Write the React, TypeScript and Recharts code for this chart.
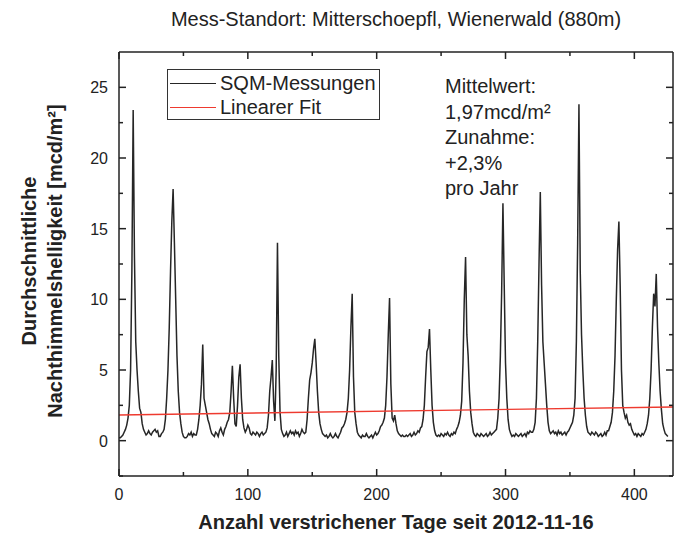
import { LineChart, Line, XAxis, YAxis } from "recharts";

// SQM-Messwerte, ein Wert pro Tag ab 2012-11-16 (Tag 0)
const brightness = [
  0.2, 0.2, 0.3, 0.4, 0.6, 0.8, 1.1, 1.6, 2.5, 5,
  12, 23.4, 13, 7, 5, 3.5, 2.3, 2.0, 1.2, 0.8,
  0.6, 0.4, 0.5, 0.7, 0.5, 0.4, 0.6, 0.7, 0.8, 0.6,
  0.7, 0.3, 0.3, 0.5, 0.6, 0.8, 1.5, 3, 5, 8,
  12, 15.5, 17.8, 14, 10, 6, 3.5, 2, 1.2, 0.6,
  0.3, 0.2, 0.2, 0.3, 0.5, 0.4, 0.6, 0.3, 0.5, 0.4,
  0.4, 0.8, 1.5, 2.5, 4, 6.8, 3, 2.5, 2, 1.5,
  1.2, 0.8, 0.5, 0.4, 0.3, 0.6, 0.5, 0.3, 0.7, 0.9,
  0.6, 0.4, 0.8, 1.0, 1.3, 1.5, 2.0, 3.5, 5.3, 3,
  1.2, 1.0, 2.5, 4.5, 5.4, 3, 1.5, 0.9, 0.6, 0.8,
  1.1, 0.9, 0.5, 0.4, 0.6, 0.5, 0.4, 0.6, 0.5, 0.3,
  0.5, 0.6, 0.4, 0.5, 0.6, 0.9, 1.8, 3.5, 4.5, 5.7,
  2.8, 1.4, 5, 14, 6, 2, 0.8, 0.5, 0.3, 0.4,
  0.6, 0.3, 0.5, 0.7, 0.5, 0.6, 0.4, 0.7, 0.5, 0.6,
  0.3, 0.5, 0.8, 0.6, 0.5, 0.6, 1.5, 3, 4.3, 4.8,
  5.5, 6.5, 7.2, 5.5, 3.5, 2, 1.2, 0.8, 0.5, 0.4,
  0.3, 0.4, 0.2, 0.3, 0.5, 0.3, 0.2, 0.3, 0.5, 0.3,
  0.2, 0.4, 0.6, 0.9, 1.0, 1.2, 1.5, 2, 3, 5,
  8, 10.4, 4.5, 2, 1.2, 0.6, 0.4, 0.3, 0.2, 0.4,
  0.3, 0.3, 0.5, 0.3, 0.2, 0.3, 0.4, 0.2, 0.4, 0.6,
  0.4, 0.5, 0.7, 1.0, 1.1, 1.3, 1.6, 2.5, 4.5, 7.5,
  10.1, 4, 1.6, 1.4, 1.8, 1.2, 0.7, 0.5, 0.4, 0.3,
  0.4, 0.3, 0.3, 0.4, 0.3, 0.4, 0.5, 0.3, 0.4, 0.6,
  0.4, 0.5, 0.7, 0.6, 0.9, 1.0, 1.5, 2.5, 4.5, 6.3,
  6.6, 7.9, 5, 2.5, 1.3, 0.7, 0.4, 0.3, 0.4, 0.3,
  0.5, 0.4, 0.3, 0.5, 0.4, 0.6, 0.4, 0.3, 0.5, 0.4,
  0.6, 0.5, 0.8, 1.0, 1.3, 1.8, 2.8, 5.5, 10, 13.0,
  7.5, 6, 3.5, 2, 1.2, 0.6, 0.4, 0.3, 0.5, 0.4,
  0.3, 0.5, 0.4, 0.3, 0.4, 0.5, 0.3, 0.4, 0.6, 0.4,
  0.5, 0.6, 0.7, 0.8, 1.6, 3, 6, 10.5, 16.8, 11,
  5.5, 3, 1.5, 0.8, 0.5, 0.3, 0.4, 0.3, 0.5, 0.4,
  0.3, 0.4, 0.5, 0.3, 0.4, 0.5, 0.3, 0.6, 0.5, 0.7,
  0.6, 0.6, 0.8, 1.3, 3, 7, 12.5, 17.6, 11, 7,
  5.5, 4, 2.5, 1.3, 0.7, 0.5, 0.6, 0.7, 0.5, 0.6,
  0.4, 0.7, 0.5, 0.6, 0.4, 0.5, 0.6, 0.4, 0.6, 0.7,
  0.9, 1.1, 1.3, 1.8, 3, 7, 14, 23.8, 12, 7.5,
  5, 3, 1.8, 1.0, 0.6, 0.5, 0.4, 0.6, 0.5, 0.4,
  0.6, 0.5, 0.3, 0.4, 0.5, 0.3, 0.4, 0.6, 0.4, 0.7,
  0.7, 1.0, 1.3, 2, 3.5, 6, 10, 13.5, 15.5, 11,
  5, 2.5, 2.0, 1.6, 1.8, 1.3, 1.1, 1.2, 0.8, 0.6,
  0.4, 0.5, 0.3, 0.5, 0.4, 0.3, 0.5, 0.4, 0.6, 0.8,
  1.2, 1.8, 3, 5, 8, 10.4, 9.5, 11.8, 8, 5.5,
  3.5, 2.2, 1.2, 0.8, 0.5, 0.4, 0.3,
];

// Linearer Fit: Anfangs- und Endwert
const fitDays = [0, 430];
const fitValues = [1.82, 2.38];

// Haupt- und Nebenstriche
const xTicks = [0, 50, 100, 150, 200, 250, 300, 350, 400];
const xLabeled = [0, 100, 200, 300, 400];
const yTicks = [-2.5, 0, 2.5, 5, 7.5, 10, 12.5, 15, 17.5, 20, 22.5, 25];
const yLabeled = [0, 5, 10, 15, 20, 25];

const xDomain = [0, 430];
const yDomain = [-2.5, 27.5];

const font = '"Liberation Sans", Arial, sans-serif';
const ink = "#222";
const MAJOR = 7;
const MINOR = 4;

// Striche zeigen nach innen (Origin-Stil), Beschriftung nur an Hauptstrichen
function makeTick(side: "bottom" | "top" | "left" | "right", labeled: number[]) {
  return (props: any) => {
    const { x, y, payload } = props;
    const major = labeled.includes(payload.value);
    const len = major ? MAJOR : MINOR;
    let line;
    if (side === "bottom") line = <line x1={x} x2={x} y1={y} y2={y - len} />;
    else if (side === "top") line = <line x1={x} x2={x} y1={y} y2={y + len} />;
    else if (side === "left") line = <line x1={x} x2={x + len} y1={y} y2={y} />;
    else line = <line x1={x} x2={x - len} y1={y} y2={y} />;
    return (
      <g>
        <g stroke={ink} strokeWidth={1.5}>{line}</g>
        {major && side === "bottom" && (
          <text x={x} y={y + 24} textAnchor="middle" fill={ink} fontSize={16} fontFamily={font}>
            {payload.value}
          </text>
        )}
        {major && side === "left" && (
          <text x={x - 11} y={y + 6} textAnchor="end" fill={ink} fontSize={16} fontFamily={font}>
            {payload.value}
          </text>
        )}
      </g>
    );
  };
}

export default function App() {
  const sqmData = brightness.map((v, i) => ({ day: i, sqm: v }));
  const fitData = fitDays.map((d, i) => ({ day: d, fit: fitValues[i] }));

  const frame = { stroke: ink, strokeWidth: 1.5 };

  return (
    <div
      style={{
        position: "absolute",
        left: 0,
        top: 0,
        width: 683,
        height: 538,
        background: "#fff",
        fontFamily: font,
        color: ink,
      }}
    >
      <LineChart
        width={683}
        height={538}
        margin={{ top: 51, right: 9, bottom: 61, left: 118 }}
      >
        <XAxis
          xAxisId="main"
          dataKey="day"
          type="number"
          domain={xDomain}
          ticks={xTicks}
          allowDataOverflow
          height={1}
          tickSize={0}
          tickMargin={0}
          axisLine={frame}
          tickLine={false}
          tick={makeTick("bottom", xLabeled)}
          interval={0}
        />
        <XAxis
          xAxisId="top"
          orientation="top"
          dataKey="day"
          type="number"
          domain={xDomain}
          ticks={xTicks}
          allowDataOverflow
          height={1}
          tickSize={0}
          tickMargin={0}
          axisLine={frame}
          tickLine={false}
          tick={makeTick("top", xLabeled)}
          interval={0}
        />
        <YAxis
          yAxisId="main"
          type="number"
          domain={yDomain}
          ticks={yTicks}
          allowDataOverflow
          width={1}
          tickSize={0}
          tickMargin={0}
          axisLine={frame}
          tickLine={false}
          tick={makeTick("left", yLabeled)}
          interval={0}
        />
        <YAxis
          yAxisId="right"
          orientation="right"
          type="number"
          domain={yDomain}
          ticks={yTicks}
          allowDataOverflow
          width={1}
          tickSize={0}
          tickMargin={0}
          axisLine={frame}
          tickLine={false}
          tick={makeTick("right", yLabeled)}
          interval={0}
        />
        <Line
          xAxisId="main"
          yAxisId="main"
          data={sqmData}
          dataKey="sqm"
          type="linear"
          stroke="#262626"
          strokeWidth={1.5}
          dot={false}
          isAnimationActive={false}
        />
        <Line
          xAxisId="main"
          yAxisId="main"
          data={fitData}
          dataKey="fit"
          type="linear"
          stroke="#ee3a2f"
          strokeWidth={1.4}
          dot={false}
          isAnimationActive={false}
        />
        <Line
          xAxisId="top"
          yAxisId="right"
          data={fitData}
          dataKey="fit"
          stroke="none"
          dot={false}
          legendType="none"
          isAnimationActive={false}
        />
      </LineChart>

      {/* Titel */}
      <div
        style={{
          position: "absolute",
          left: 119,
          width: 554,
          top: 8,
          textAlign: "center",
          fontSize: 20,
        }}
      >
        Mess-Standort: Mitterschoepfl, Wienerwald (880m)
      </div>

      {/* Legende */}
      <div
        style={{
          position: "absolute",
          left: 167,
          top: 69,
          width: 211,
          height: 49,
          border: "1.5px solid #333",
          fontSize: 20,
        }}
      >
        {[
          { name: "SQM-Messungen", color: "#262626" },
          { name: "Linearer Fit", color: "#ee3a2f" },
        ].map((item, i) => (
          <div
            key={item.name}
            style={{
              position: "absolute",
              left: 2,
              top: 1 + i * 24,
              height: 24,
              display: "flex",
              alignItems: "center",
              whiteSpace: "nowrap",
            }}
          >
            <span
              style={{
                display: "inline-block",
                width: 46,
                height: 0,
                borderTop: `1.5px solid ${item.color}`,
                marginRight: 4,
              }}
            />
            {item.name}
          </div>
        ))}
      </div>

      {/* Kennwerte */}
      <div
        style={{
          position: "absolute",
          left: 445,
          top: 74,
          fontSize: 20,
          lineHeight: "25.5px",
          whiteSpace: "nowrap",
        }}
      >
        <div>Mittelwert:</div>
        <div>1,97mcd/m²</div>
        <div>Zunahme:</div>
        <div>+2,3%</div>
        <div>pro Jahr</div>
      </div>

      {/* X-Achsentitel */}
      <div
        style={{
          position: "absolute",
          left: 119,
          width: 554,
          top: 511,
          textAlign: "center",
          fontSize: 20,
          fontWeight: "bold",
        }}
      >
        Anzahl verstrichener Tage seit 2012-11-16
      </div>

      {/* Y-Achsentitel */}
      <div
        style={{
          position: "absolute",
          left: 42,
          top: 261,
          width: 360,
          marginLeft: -180,
          marginTop: -26,
          height: 52,
          transform: "rotate(-90deg)",
          textAlign: "center",
          fontSize: 20,
          fontWeight: "bold",
          lineHeight: "26px",
          whiteSpace: "nowrap",
        }}
      >
        <div>Durchschnittliche</div>
        <div>Nachthimmelshelligkeit [mcd/m²]</div>
      </div>
    </div>
  );
}
